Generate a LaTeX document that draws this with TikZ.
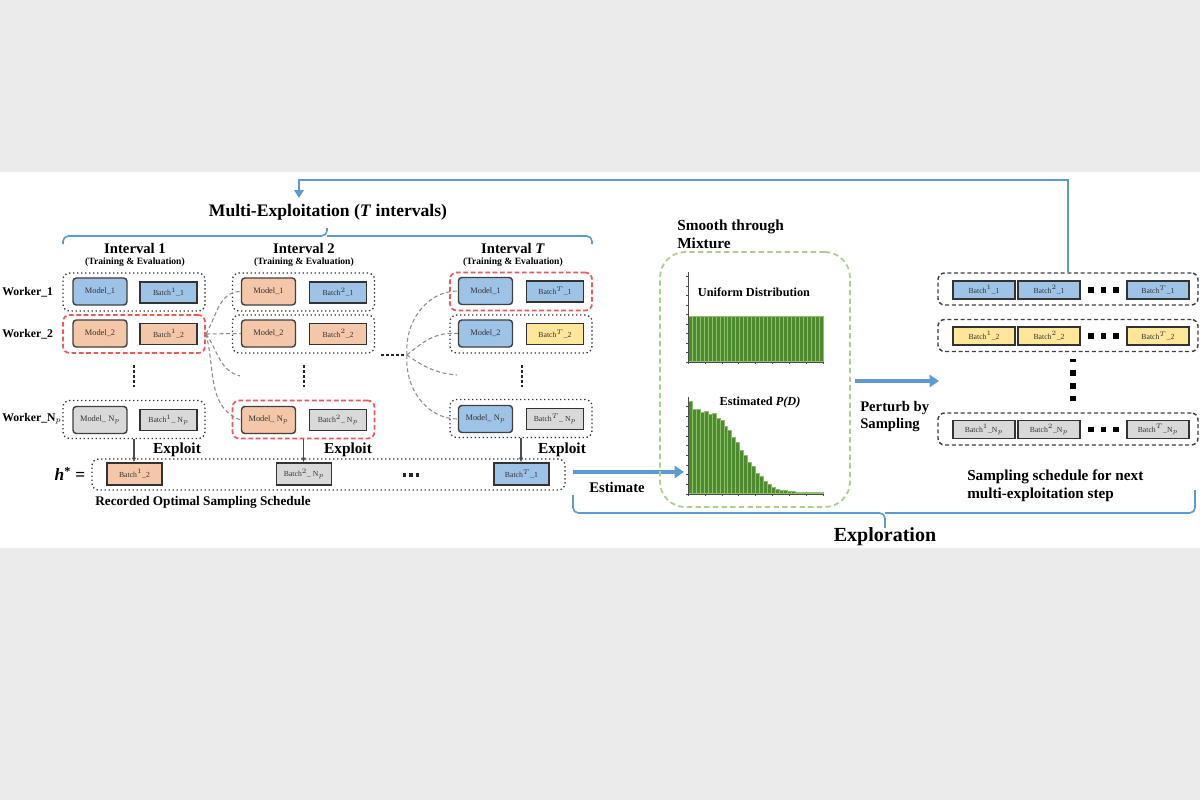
\documentclass[tikz,border=0pt]{standalone}
\usepackage{fontspec}
\setmainfont{Liberation Serif}
\usetikzlibrary{arrows.meta,calc}
\definecolor{bgGrey}{HTML}{EBEBEB}
\definecolor{cBlue}{HTML}{9DC3E6}
\definecolor{cPeach}{HTML}{F4C7A8}
\definecolor{cYellow}{HTML}{FFE699}
\definecolor{cGrey}{HTML}{D9D9D9}
\definecolor{lineBlue}{HTML}{5B9BD5}
\definecolor{redDash}{HTML}{F25757}
\definecolor{greenDash}{HTML}{A9D18E}
\definecolor{barG}{HTML}{4E8A2E}
\definecolor{barL}{HTML}{8DC06A}
\newcommand\btch[2]{Batch$^{#1}$\_#2}
\newcommand\fsz[1]{\fontsize{#1}{#1}\selectfont\bfseries}
\newcommand\fszl[2]{\fontsize{#1}{#2}\selectfont\bfseries}
\tikzset{
 modelbox/.style={draw=black!75, line width=1.1pt, rounded corners=2.5pt, minimum width=40.5pt, minimum height=20.25pt, inner sep=0pt, font=\fontsize{6.3}{7}\selectfont, text=black!80},
 batchbox/.style={draw=black!80, line width=1.1pt, minimum width=42.75pt, minimum height=15.75pt, inner sep=0pt, font=\fontsize{5.8}{7}\selectfont, text=black!80},
 workerbox/.style={draw=black!80, dotted, line width=1pt, rounded corners=5pt, minimum width=106.5pt, minimum height=28.5pt, inner sep=0pt},
 redbox/.style={workerbox, draw=redDash, dash pattern=on 3.5pt off 2pt, line width=1.3pt},
 rowbox/.style={draw=black!75, dash pattern=on 3pt off 2pt, line width=1.1pt, rounded corners=5pt, minimum width=195pt, minimum height=24pt, inner sep=0pt},
 rbatch/.style={draw=black!80, line width=1pt, minimum width=46.5pt, minimum height=13.5pt, inner sep=0pt, font=\fontsize{5.8}{7}\selectfont, text=black!80},
 fan/.style={draw=gray!90, line width=0.8pt, dash pattern=on 3pt off 2pt},
 vdots/.style={line width=2pt, dash pattern=on 2pt off 1.8pt, black!85},
 sq/.style={fill=black, minimum size=3.8pt, inner sep=0pt},
 exploitarrow/.style={draw=black!70, line width=0.8pt, -{Latex[length=3.5pt,width=3.5pt]}},
 bigarrow/.style={draw=lineBlue, line width=2.4pt, -{Triangle[length=7pt,width=9pt]}},
 brace/.style={draw=lineBlue, line width=1.2pt, rounded corners=4pt},
 lbl/.style={inner sep=0pt, font=\fsz{11}},
 bar/.style={fill=barG, draw=barL, line width=0.35pt},
 axisline/.style={draw=black!70, line width=0.6pt}
}
\begin{document}
\begin{tikzpicture}[x=0.75pt,y=-0.75pt]
\useasboundingbox (0,0) rectangle (1200,800);
\fill[bgGrey] (0,0) rectangle (1200,800);
\fill[white] (0,172) rectangle (1200,548);

% ---------- title and brace
\node[lbl, font=\fsz{13.2}] (title) at (328,212) {Multi-Exploitation (\textit{T} intervals)};
\draw[brace] (63,244) |- (327,236) -- (327,228);
\draw[brace] (327,236) -| (592,244);

% interval headings
\node[lbl] (int1) at (135,248) {Interval 1};
\node[lbl, font=\fsz{7.2}] (te1) at (135,262) {(Training \& Evaluation)};
\node[lbl] (int2) at (304,248) {Interval 2};
\node[lbl, font=\fsz{7.2}] (te2) at (304,262) {(Training \& Evaluation)};
\node[lbl] (intT) at (513,248) {Interval \textit{T}};
\node[lbl, font=\fsz{7.2}] (teT) at (513,262) {(Training \& Evaluation)};

% worker labels
\node[lbl, font=\fsz{8.8}, anchor=west] (wk1) at (2,292) {Worker\_1};
\node[lbl, font=\fsz{8.8}, anchor=west] (wk2) at (2,334) {Worker\_2};
\node[lbl, font=\fsz{8.8}, anchor=west] (wkn) at (2,419) {Worker\_N$_p$};

% ---------- column 1
\node[workerbox] (w11) at (134,292) {};
\node[redbox] (w12) at (134,334) {};
\node[workerbox] (w1n) at (134,419.5) {};
\node[modelbox, fill=cBlue] (m11) at (100,291.5) {Model\_1};
\node[batchbox, fill=cBlue] (b11) at (168.5,292.5) {\btch{1}{1}};
\node[modelbox, fill=cPeach] (m12) at (100,333.5) {Model\_2};
\node[batchbox, fill=cPeach] (b12) at (168.5,334) {\btch{1}{2}};
\node[modelbox, fill=cGrey] (m1n) at (100,420) {Model\_ N$_p$};
\node[batchbox, fill=cGrey] (b1n) at (168.5,420) {\btch{1}{ N$_p$}};
\draw[vdots] (134,365) -- (134,387);

% ---------- column 2
\node[workerbox] (w21) at (303.5,292) {};
\node[workerbox] (w22) at (303.5,334) {};
\node[redbox] (w2n) at (303.5,419.5) {};
\node[modelbox, fill=cPeach] (m21) at (268.5,291.5) {Model\_1};
\node[batchbox, fill=cBlue] (b21) at (338,292.5) {\btch{2}{1}};
\node[modelbox, fill=cPeach] (m22) at (268.5,333.5) {Model\_2};
\node[batchbox, fill=cPeach] (b22) at (338,334) {\btch{2}{2}};
\node[modelbox, fill=cPeach] (m2n) at (268.5,420) {Model\_ N$_p$};
\node[batchbox, fill=cGrey] (b2n) at (338,420) {\btch{2}{ N$_p$}};
\draw[vdots] (304,365) -- (304,387);

% ---------- column T
\node[redbox] (wt1) at (521,291.5) {};
\node[workerbox] (wt2) at (521,334) {};
\node[workerbox] (wtn) at (521,418.5) {};
\node[modelbox, fill=cBlue] (mt1) at (485.5,291) {Model\_1};
\node[batchbox, fill=cBlue] (bt1) at (555,291.5) {\btch{T}{1}};
\node[modelbox, fill=cBlue] (mt2) at (485.5,333.5) {Model\_2};
\node[batchbox, fill=cYellow] (bt2) at (555,334) {\btch{T}{2}};
\node[modelbox, fill=cBlue] (mtn) at (485.5,419) {Model\_ N$_p$};
\node[batchbox, fill=cGrey] (btn) at (555,419) {\btch{T}{ N$_p$}};
\draw[vdots] (522,365) -- (522,387);

% ---------- fans
\coordinate (o1) at (206,334);
\coordinate (free1) at (240,376);
\draw[fan] (o1) to[out=60,in=180] (m21.west);
\draw[fan] (o1) -- (m22.west);
\draw[fan] (o1) to[out=-55,in=165] (free1);
\draw[fan] (o1) to[out=-75,in=160] (m2n.west);

\draw[vdots] (381,355) -- (404,355);
\coordinate (o2) at (407,355);
\coordinate (free2) at (457,375);
\draw[fan] (o2) to[out=95,in=180] (mt1.west);
\draw[fan] (o2) to[out=40,in=175] (mt2.west);
\draw[fan] (o2) to[out=-35,in=175] (free2);
\draw[fan] (o2) to[out=-95,in=180] (mtn.west);

% ---------- h* row
\node[workerbox, minimum width=354.75pt, minimum height=23.25pt] (hstar) at (328.5,474.5) {};
\node[lbl, font=\fsz{13}] (hlabel) at (70,474) {\textit{h}\textsuperscript{*} =};
\node[batchbox, fill=cPeach, minimum width=41.25pt, minimum height=16.5pt] (h1) at (134.5,474) {\btch{1}{2}};
\node[batchbox, fill=cGrey, minimum width=41.25pt, minimum height=16.5pt] (h2) at (304,474) {\btch{2}{ N$_p$}};
\node[batchbox, fill=cBlue, minimum width=41.25pt, minimum height=16.5pt] (h3) at (521.5,474) {\btch{T}{1}};
\draw[vdots, dash pattern=on 2.4pt off 2.4pt, line width=2.4pt] (403,475) -- (420,475);
\draw[exploitarrow] (w1n.south) -- (w1n.south |- h1.north);
\draw[exploitarrow] (w2n.south) -- (w2n.south |- h2.north);
\draw[exploitarrow] (wtn.south) -- (wtn.south |- h3.north);
\node[lbl, font=\fsz{11.5}] (ex1) at (177,450) {Exploit};
\node[lbl, font=\fsz{11.5}] (ex2) at (348,450) {Exploit};
\node[lbl, font=\fsz{11.5}] (ex3) at (562,450) {Exploit};
\node[lbl, font=\fsz{9.9}] (rec) at (203,502) {Recorded Optimal Sampling Schedule};

% ---------- estimate arrow
\coordinate (estS) at (573,472);
\coordinate (estE) at (684,472);
\draw[bigarrow] (estS) -- (estE);
\node[lbl] (estl) at (617,487) {Estimate};

% ---------- mixture box
\node[draw=greenDash, dash pattern=on 4pt off 2.5pt, line width=1.3pt, rounded corners=19pt, minimum width=142.5pt, minimum height=191.25pt, inner sep=0pt] (mix) at (755,379.5) {};
\node[lbl, anchor=west, align=left, font=\fszl{11.5}{13.5}] (smooth) at (677,234) {Smooth through\\Mixture};

% uniform histogram
\foreach \i in {0,...,33} \draw[bar] ({688+\i*3.97},361) rectangle ++(3.97,-45);
\draw[axisline] (688,272) -- (688,362) -- (823,362);
\foreach \t in {0,...,9} \draw[axisline, line width=0.4pt] (688,{362-\t*9.5}) -- ++(-2,0);
\foreach \t in {0,...,8} \draw[axisline, line width=0.4pt] ({688+\t*16.9},362) -- ++(0,2);
\node[lbl, font=\fsz{9.2}] (unif) at (754,292) {Uniform Distribution};

% estimated histogram
\foreach \h [count=\i from 0] in {92,84,84,81,82,79,80,75,73,67,63,56,51,43,38,31,27,20,17,12,9,6,4,3,3,2,1.5,1,1,1,0.8,0.6,0.5,0.5}
  \draw[bar] ({688+\i*3.97},493) rectangle ++(3.97,-\h);
\draw[axisline] (688,397) -- (688,494) -- (823,494);
\foreach \t in {0,...,9} \draw[axisline, line width=0.4pt] (688,{494-\t*9.7}) -- ++(-2,0);
\foreach \t in {0,...,8} \draw[axisline, line width=0.4pt] ({688+\t*16.9},494) -- ++(0,2);
\node[lbl, font=\fsz{9.2}] (estp) at (760,403) {Estimated \textit{P(D)}};

% ---------- perturb arrow
\coordinate (pS) at (855,381);
\coordinate (pE) at (939,381);
\draw[bigarrow] (pS) -- (pE);
\node[lbl, anchor=west, align=left, font=\fszl{11}{12.8}] (perturb) at (860,416.5) {Perturb by\\Sampling};

% ---------- right schedule
\node[rowbox] (r1) at (1068,289) {};
\node[rowbox] (r2) at (1068,335.5) {};
\node[rowbox] (r3) at (1068,429) {};
\node[rbatch, fill=cBlue] (r1a) at (984,290) {\btch{1}{1}};
\node[rbatch, fill=cBlue] (r1b) at (1049,290) {\btch{2}{1}};
\node[rbatch, fill=cBlue] (r1c) at (1158,290) {\btch{T}{1}};
\node[rbatch, fill=cYellow] (r2a) at (984,336) {\btch{1}{2}};
\node[rbatch, fill=cYellow] (r2b) at (1049,336) {\btch{2}{2}};
\node[rbatch, fill=cYellow] (r2c) at (1158,336) {\btch{T}{2}};
\node[rbatch, fill=cGrey] (r3a) at (984,429.5) {\btch{1}{N$_p$}};
\node[rbatch, fill=cGrey] (r3b) at (1049,429.5) {\btch{2}{N$_p$}};
\node[rbatch, fill=cGrey] (r3c) at (1158,429.5) {\btch{T}{N$_p$}};
\foreach \yy/\nm in {290/a,336/b,429.5/c} {
  \node[sq] (d1\nm) at (1091,\yy) {};
  \node[sq] (d2\nm) at (1103.5,\yy) {};
  \node[sq] (d3\nm) at (1116,\yy) {};
}
\node[sq, minimum height=2.5pt] (v0) at (1073,360.5) {};
\node[sq] (v1) at (1073,373) {};
\node[sq] (v2) at (1073,386) {};
\node[sq] (v3) at (1073,398.5) {};
\node[lbl, anchor=west, align=left, font=\fszl{11.4}{13.5}] (nextlbl) at (967,486) {Sampling schedule for next\\multi-exploitation step};

% ---------- feedback arrow
\coordinate (fbTop) at (1068,180);
\coordinate (fbEnd) at (299,198);
\draw[draw=lineBlue, line width=2pt, -{Triangle[length=6pt,width=7pt]}] (r1.north) -- (r1.north |- fbTop) -| (fbEnd);

% ---------- exploration brace
\draw[brace] (573,495) |- (885,513) -- (885,528);
\draw[brace] (885,513) -| (1195,490);
\node[lbl, font=\fsz{15}] (explor) at (885,537) {Exploration};
\end{tikzpicture}
\end{document}
